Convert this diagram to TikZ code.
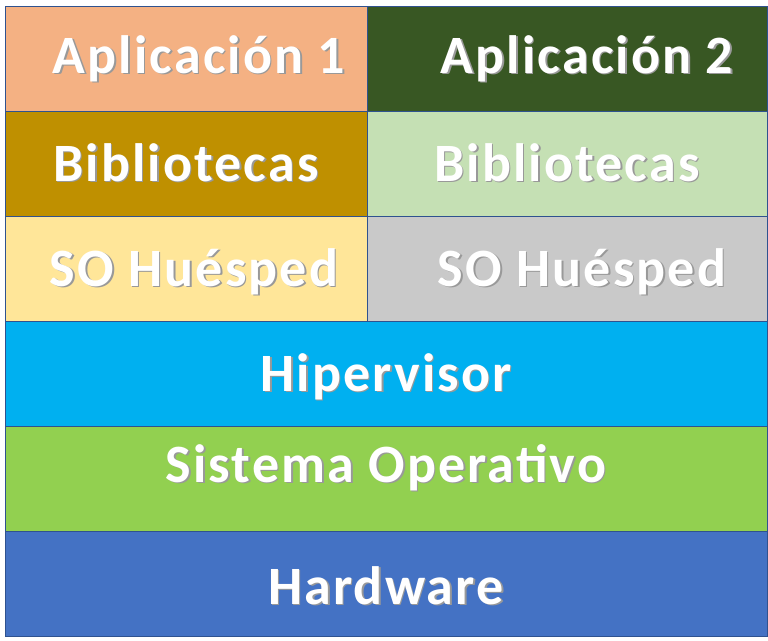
\documentclass[tikz,border=0pt]{standalone}
\usepackage{fontspec}
\setmainfont{Carlito}[LetterSpace=4]
\usetikzlibrary{positioning}
\definecolor{appone}{HTML}{F4B183}
\definecolor{apptwo}{HTML}{385723}
\definecolor{libone}{HTML}{BF9000}
\definecolor{libtwo}{HTML}{C5E0B4}
\definecolor{guestone}{HTML}{FFE699}
\definecolor{guesttwo}{HTML}{C9C9C9}
\definecolor{hyper}{HTML}{00B0F0}
\definecolor{hostos}{HTML}{92D050}
\definecolor{hwblue}{HTML}{4472C4}
\definecolor{edgeblue}{HTML}{2F528F}
\newcommand{\shadowed}[1]{\makebox[0pt][l]{\kern1.6pt\raisebox{-1.6pt}{\textcolor{black!40}{#1}}}#1}

\begin{document}
\begin{tikzpicture}[x=1pt,y=1pt,
	layer/.style={draw=edgeblue, line width=0.8pt, inner sep=0pt, outer sep=0pt,
		minimum height=105pt, text height=35pt, text depth=0pt,
		text=white, font=\bfseries\fontsize{54}{60}\selectfont},
	leftbox/.style={layer, minimum width=362pt},
	rightbox/.style={layer, minimum width=400pt},
	fullbox/.style={layer, minimum width=762pt},
	textshift/.style={execute at begin node={\hspace*{#1}}}]
	\useasboundingbox (0,0) rectangle (768,-640);

	% guest side by side
	\node [leftbox, fill=appone, anchor=north west, textshift=26pt] (app1) at (5,-6) {\raisebox{3pt}{\shadowed{Aplicación 1}}};
	\node [rightbox, fill=apptwo, right=0pt of app1, textshift=40pt] (app2) {\raisebox{3pt}{\shadowed{Aplicación 2}}};
	\node [leftbox, fill=libone, below=0pt of app1] (lib1) {\shadowed{Bibliotecas}};
	\node [rightbox, fill=libtwo, below=0pt of app2] (lib2) {\shadowed{Bibliotecas}};
	\node [leftbox, fill=guestone, below=0pt of lib1, textshift=16pt] (guest1) {\shadowed{SO Huésped}};
	\node [rightbox, fill=guesttwo, below=0pt of lib2, textshift=30pt] (guest2) {\shadowed{SO Huésped}};

	% host stack
	\node [fullbox, fill=hyper, anchor=north west] (hyp) at (guest1.south west) {\shadowed{Hipervisor}};
	\node [fullbox, fill=hostos, below=0pt of hyp] (os) {\raisebox{14pt}{\shadowed{Sistema Operativo}}};
	\node [fullbox, fill=hwblue, below=0pt of os] (hw) {\raisebox{-3pt}{\shadowed{Hardware}}};
\end{tikzpicture}
\end{document}
